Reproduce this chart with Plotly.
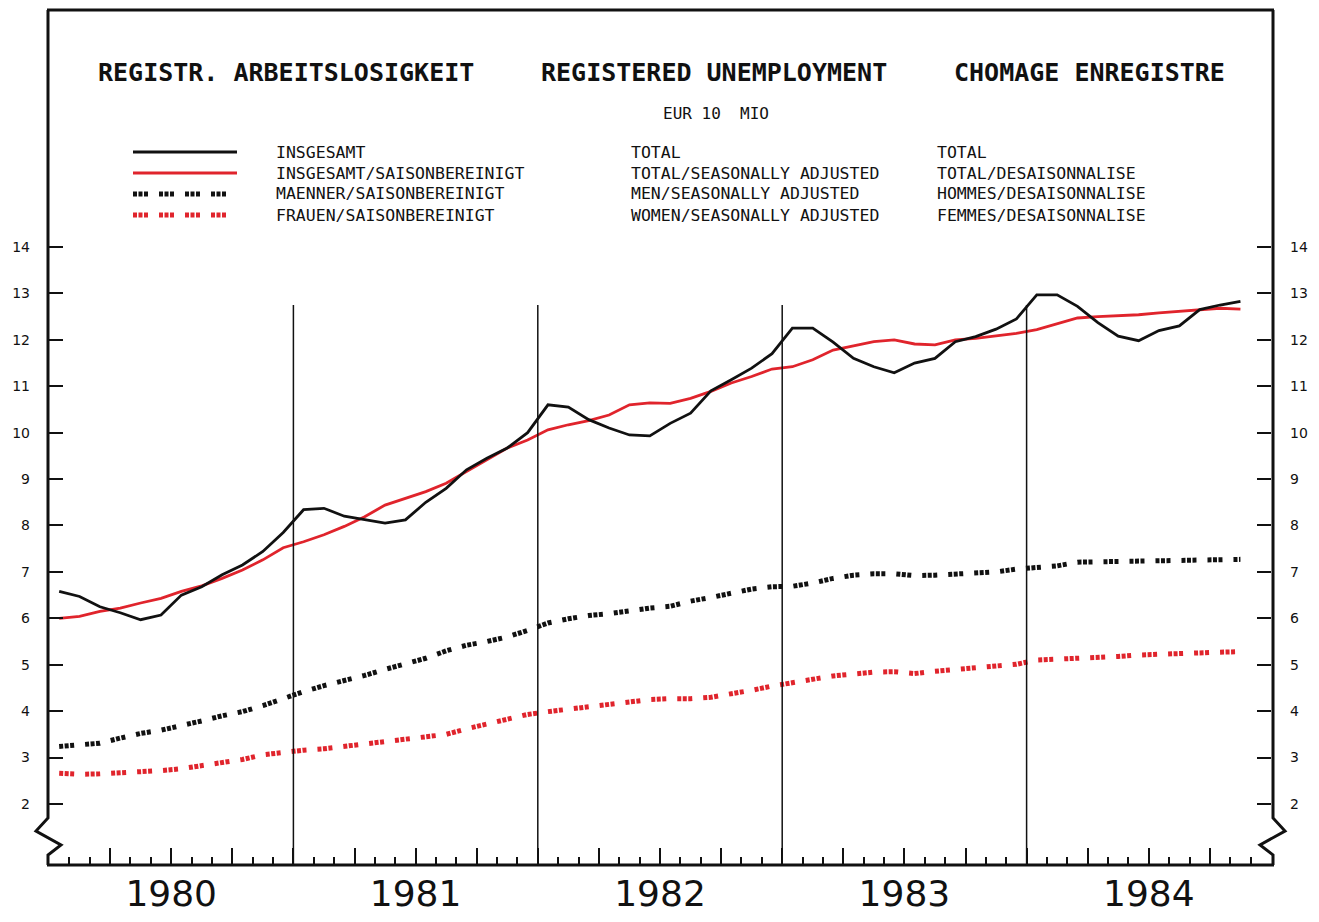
import plotly.graph_objects as go

# ---------------- data (monthly, Jan 1980 .. Nov 1984, millions) ----------------
years = ["1980", "1981", "1982", "1983", "1984"]

total = [6.58, 6.47, 6.25, 6.12, 5.97, 6.07, 6.50, 6.68, 6.94, 7.15, 7.44, 7.85,
         8.34, 8.37, 8.20, 8.13, 8.05, 8.12, 8.50, 8.80, 9.20, 9.45, 9.67, 10.00,
         10.60, 10.55, 10.28, 10.10, 9.95, 9.93, 10.20, 10.42, 10.90, 11.14, 11.39, 11.70,
         12.25, 12.25, 11.95, 11.60, 11.42, 11.29, 11.50, 11.60, 11.96, 12.07, 12.23, 12.45,
         12.97, 12.97, 12.72, 12.37, 12.08, 11.98, 12.20, 12.30, 12.65, 12.75, 12.83]

total_sa = [6.00, 6.04, 6.15, 6.22, 6.33, 6.43, 6.58, 6.70, 6.86, 7.04, 7.26, 7.52,
            7.65, 7.80, 7.98, 8.19, 8.44, 8.58, 8.73, 8.91, 9.16, 9.41, 9.67, 9.84,
            10.06, 10.17, 10.26, 10.38, 10.60, 10.64, 10.63, 10.74, 10.89, 11.07, 11.21, 11.37,
            11.42, 11.57, 11.78, 11.87, 11.96, 12.00, 11.91, 11.89, 12.00, 12.03, 12.09, 12.14,
            12.22, 12.34, 12.47, 12.50, 12.52, 12.54, 12.58, 12.61, 12.65, 12.68, 12.66]

men_sa = [3.24, 3.27, 3.31, 3.42, 3.52, 3.59, 3.68, 3.79, 3.90, 3.99, 4.12, 4.28,
          4.42, 4.55, 4.65, 4.77, 4.90, 5.01, 5.14, 5.30, 5.42, 5.50, 5.60, 5.74,
          5.90, 5.99, 6.06, 6.10, 6.17, 6.22, 6.26, 6.37, 6.45, 6.54, 6.63, 6.68,
          6.69, 6.76, 6.86, 6.93, 6.96, 6.96, 6.92, 6.93, 6.95, 6.97, 7.00, 7.06,
          7.10, 7.13, 7.21, 7.22, 7.23, 7.24, 7.24, 7.25, 7.26, 7.27, 7.27]

women_sa = [2.66, 2.64, 2.65, 2.67, 2.70, 2.72, 2.76, 2.83, 2.90, 2.96, 3.06, 3.12,
            3.16, 3.19, 3.24, 3.30, 3.36, 3.40, 3.44, 3.50, 3.62, 3.73, 3.84, 3.93,
            3.99, 4.04, 4.08, 4.14, 4.20, 4.25, 4.27, 4.27, 4.30, 4.37, 4.45, 4.54,
            4.61, 4.70, 4.76, 4.80, 4.84, 4.85, 4.81, 4.86, 4.90, 4.93, 4.96, 5.01,
            5.10, 5.12, 5.12, 5.15, 5.18, 5.21, 5.23, 5.25, 5.26, 5.27, 5.28]

y_ticks = [2, 3, 4, 5, 6, 7, 8, 9, 10, 11, 12, 13, 14]

legend_de = ["INSGESAMT", "INSGESAMT/SAISONBEREINIGT", "MAENNER/SAISONBEREINIGT", "FRAUEN/SAISONBEREINIGT"]
legend_en = ["TOTAL", "TOTAL/SEASONALLY ADJUSTED", "MEN/SEASONALLY ADJUSTED", "WOMEN/SEASONALLY ADJUSTED"]
legend_fr = ["TOTAL", "TOTAL/DESAISONNALISE", "HOMMES/DESAISONNALISE", "FEMMES/DESAISONNALISE"]

titles = ["REGISTR. ARBEITSLOSIGKEIT", "REGISTERED UNEMPLOYMENT", "CHOMAGE ENREGISTRE"]
unit = "EUR 10  MIO"

# ---------------- styling ----------------
OFF = 8                      # page body margin of the browser
W, H = 1319 - OFF, 922 - OFF
L, R, T, B = 49, 1271, 10, 865   # target pixel positions in the screenshot
BLACK = "#111111"
RED = "#e0242c"
DOTS = "4px,1.5px,4px,1.5px,4px,11px"
MONO = "DejaVu Sans Mono"

x = [i + 0.5 for i in range(len(total))]
n_months = 12 * len(years)
Y0, Y1 = 0.686, 19.105


def pxx(v):
    return (v - L) / (R - L)


def pxy(v):
    return (B - v) / (B - T)


fig = go.Figure()
fig.add_trace(go.Scatter(x=x, y=women_sa, mode="lines", yaxis="y2",
                         line=dict(color=RED, width=5, dash=DOTS), hoverinfo="skip"))
fig.add_trace(go.Scatter(x=x, y=men_sa, mode="lines",
                         line=dict(color=BLACK, width=5, dash=DOTS), hoverinfo="skip"))
fig.add_trace(go.Scatter(x=x, y=total_sa, mode="lines",
                         line=dict(color=RED, width=2.8), hoverinfo="skip"))
fig.add_trace(go.Scatter(x=x, y=total, mode="lines",
                         line=dict(color=BLACK, width=2.8), hoverinfo="skip"))

shapes = []


def P(xp, yp):
    return f"{pxx(xp):.5f},{pxy(yp):.5f}"


left = "M " + " L ".join([P(48, 10), P(48, 818), P(36, 831), P(61, 845), P(48, 855), P(48, 865)])
right = "M " + " L ".join([P(1273, 10), P(1273, 818), P(1285, 831), P(1260, 845), P(1273, 855), P(1273, 865)])
for pth in (left, right):
    shapes.append(dict(type="path", xref="paper", yref="paper", path=pth,
                       line=dict(color=BLACK, width=3)))
shapes.append(dict(type="line", xref="paper", yref="paper", x0=pxx(47), x1=pxx(1274),
                   y0=pxy(10), y1=pxy(10), line=dict(color=BLACK, width=3)))
shapes.append(dict(type="line", xref="paper", yref="paper", x0=pxx(47), x1=pxx(1274),
                   y0=pxy(865), y1=pxy(865), line=dict(color=BLACK, width=3)))

# year separators
for k in range(1, len(years)):
    shapes.append(dict(type="line", xref="x", yref="y", x0=12 * k, x1=12 * k,
                       y0=Y0, y1=12.75, line=dict(color=BLACK, width=1.5)))

# legend samples
leg_styles = [(BLACK, "solid", 3), (RED, "solid", 3), (BLACK, DOTS, 5), (RED, DOTS, 5)]
leg_y = [152, 173, 194, 215]
for (c, d, w), yy in zip(leg_styles, leg_y):
    shapes.append(dict(type="line", xref="paper", yref="paper", x0=pxx(133), x1=pxx(237),
                       y0=pxy(yy), y1=pxy(yy), line=dict(color=c, width=w, dash=d)))

annotations = []
for t, cx in zip(titles, [286, 714, 1089]):
    annotations.append(dict(text=t, x=pxx(cx), y=pxy(72), xref="paper", yref="paper",
                            showarrow=False, xanchor="center", yanchor="middle",
                            font=dict(family=MONO, size=25, color=BLACK, weight="bold")))
annotations.append(dict(text=unit, x=pxx(716), y=pxy(114), xref="paper", yref="paper",
                        showarrow=False, xanchor="center", yanchor="middle",
                        font=dict(family=MONO, size=16, color=BLACK)))
for col, cx in zip([legend_de, legend_en, legend_fr], [274, 629, 935]):
    for txt, yy in zip(col, leg_y):
        annotations.append(dict(text=txt, x=pxx(cx), y=pxy(yy), xref="paper", yref="paper",
                                showarrow=False, xanchor="left", yanchor="middle",
                                font=dict(family=MONO, size=16.5, color=BLACK)))

qt = list(range(0, n_months + 1, 3))
qtext = []
for v in qt:
    if v % 12 == 6:
        qtext.append(years[v // 12])
    else:
        qtext.append("")

fig.update_layout(
    width=W, height=H,
    margin=dict(l=L - OFF, r=W - (R - OFF), t=T - OFF, b=H - (B - OFF), pad=0),
    paper_bgcolor="white", plot_bgcolor="white",
    showlegend=False,
    shapes=shapes, annotations=annotations,
    xaxis=dict(range=[0, n_months], showgrid=False, zeroline=False, showline=False,
               tickmode="array", tickvals=qt, ticktext=qtext,
               ticks="inside", ticklen=17, tickwidth=1.5, tickcolor=BLACK,
               minor=dict(tickmode="linear", tick0=0, dtick=1, ticks="inside",
                          ticklen=8, tickwidth=1.5, tickcolor=BLACK),
               ticklabelstandoff=4,
               tickfont=dict(family="DejaVu Sans", size=36, color=BLACK)),
    yaxis=dict(range=[Y0, Y1], showgrid=False, zeroline=False, showline=False,
               tickmode="array", tickvals=y_ticks,
               ticks="inside", ticklen=14, tickwidth=1.5, tickcolor=BLACK,
               ticklabelstandoff=18,
               tickfont=dict(family="DejaVu Sans", size=14, color=BLACK)),
    yaxis2=dict(range=[Y0, Y1], overlaying="y", side="right", showgrid=False,
                zeroline=False, showline=False,
                tickmode="array", tickvals=y_ticks,
                ticks="inside", ticklen=14, tickwidth=1.5, tickcolor=BLACK,
                ticklabelstandoff=18,
                tickfont=dict(family="DejaVu Sans", size=14, color=BLACK)),
)

fig.write_html("out.html")
